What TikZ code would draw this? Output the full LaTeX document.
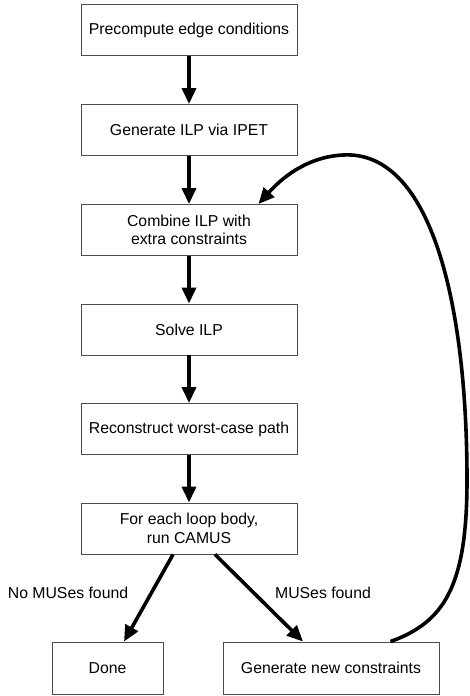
\documentclass[tikz,border=0pt]{standalone}
\usepackage{fontspec}
\setmainfont{Liberation Sans}
\usetikzlibrary{arrows.meta,calc}
\begin{document}
\begin{tikzpicture}[x=1pt,y=-1pt,
  font=\fontsize{15.8}{18.5}\selectfont,
  stepbox/.style={draw=black!70,line width=0.9pt,minimum width=216pt,minimum height=51pt,inner sep=0pt,align=center},
  flow/.style={line width=3.6pt,-{Triangle[width=14pt,length=16pt]}},
  lbl/.style={inner sep=0pt}]
\useasboundingbox (0,0) rectangle (469,696);
\node[stepbox] (pre) at (189,30) {Precompute edge conditions};
\node[stepbox] (gen) at (189,130) {Generate ILP via IPET};
\node[stepbox] (comb) at (189,230) {Combine ILP with\\extra constraints};
\node[stepbox] (solve) at (189,329.5) {Solve ILP};
\node[stepbox] (rec) at (189,429) {Reconstruct worst-case path};
\node[stepbox] (loop) at (189,528.5) {For each loop body,\\run CAMUS};
\node[stepbox,minimum width=111pt,minimum height=52pt] (done) at (107.5,668) {Done};
\node[stepbox,minimum height=52pt] (newc) at (331,668) {Generate new constraints};
\node[lbl] (nomus) at (68,593) {No MUSes found};
\node[lbl] (mus) at (323,593) {MUSes found};
\draw[flow] (pre) -- (gen);
\draw[flow] (gen) -- (comb);
\draw[flow] (comb) -- (solve);
\draw[flow] (solve) -- (rec);
\draw[flow] (rec) -- (loop);
\draw[flow] ([xshift=-16pt]loop.south) -- ([xshift=16.5pt]done.north);
\draw[flow] ([xshift=26pt]loop.south) -- ([xshift=-28pt]newc.north);
\draw[flow] ([xshift=-49pt]newc.north east)
  .. controls (445,622) and (467,585) .. (467,480)
  .. controls (467,300) and (430,150) .. (343,155)
  .. controls (305,157) and (280,180) .. ([xshift=-39pt]comb.north east);
\end{tikzpicture}
\end{document}
